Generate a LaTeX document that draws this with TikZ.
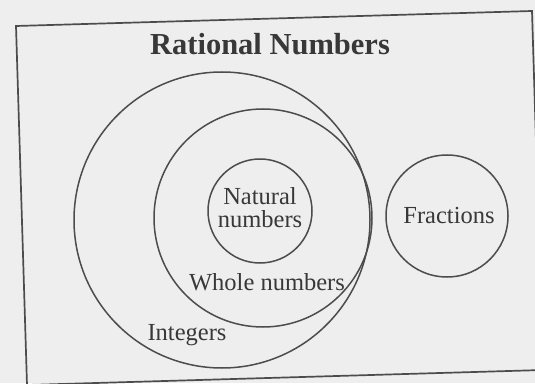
\documentclass[tikz,border=0pt]{standalone}
\usepackage{fontspec}
\setmainfont{Liberation Serif}
\definecolor{bg}{HTML}{EEEEEE}
\definecolor{ln}{HTML}{4C4C4C}
\definecolor{tx}{HTML}{383838}
\begin{document}
\begin{tikzpicture}[x=1pt,y=1pt,
  ring/.style={circle,draw=ln,line width=1.5pt,inner sep=0pt},
  frame/.style={draw=ln,line width=1.7pt},
  lbl/.style={text=tx,inner sep=0pt,font=\fontsize{24.5}{24.5}\selectfont},
  ttl/.style={text=tx,inner sep=0pt,font=\fontsize{30.5}{30.5}\selectfont\bfseries}]
\useasboundingbox (0,0) rectangle (535,383);
\fill[bg] (0,0) rectangle (535,383);
\begin{scope}
\clip (0,0) rectangle (535,383);
\coordinate (tl) at (16,357);
\coordinate (tr) at (532,372);
\coordinate (br) at (543,13);
\coordinate (bl) at (27,-2);
\draw[frame] (tl) -- (tr) -- (br) -- (bl) -- cycle;
\end{scope}
\node[ring,minimum size=296pt] (int) at (222,163) {};
\node[ring,minimum size=218pt] (whole) at (263,165) {};
\node[ring,minimum size=104pt] (nat) at (260,172) {};
\node[ring,minimum size=122pt] (frac) at (447,167) {};
\node[ttl,anchor=base] (title) at (270,328) {Rational Numbers};
\node[lbl,anchor=base] (natA) at (260,178) {Natural};
\node[lbl,anchor=base] (natB) at (260,155) {numbers};
\node[lbl,anchor=base] (wholeL) at (267,93) {Whole numbers};
\node[lbl,anchor=base] (intL) at (187,43) {Integers};
\node[lbl,anchor=base] (fracL) at (449,159) {Fractions};
\end{tikzpicture}
\end{document}
